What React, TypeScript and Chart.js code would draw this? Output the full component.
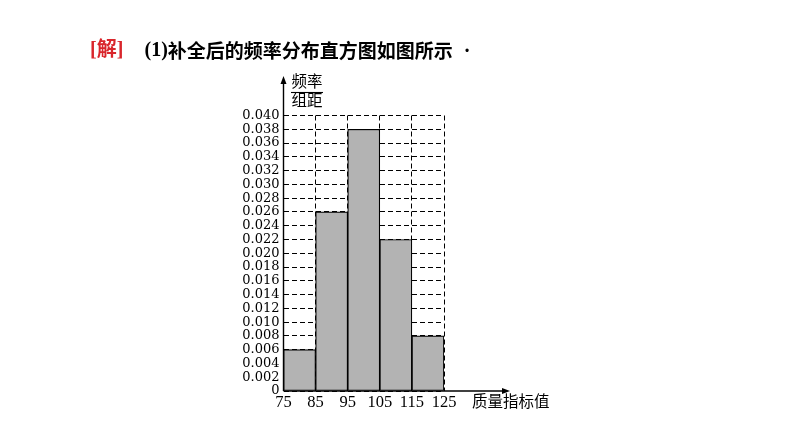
import React, { useEffect, useRef } from "react";
import { Chart, registerables } from "chart.js";

Chart.register(...registerables);

// ---- data ----
const BIN_EDGES = [75, 85, 95, 105, 115, 125];
const FREQ_PER_WIDTH = [0.006, 0.026, 0.038, 0.022, 0.008];
const Y_TICKS = [
  0, 0.002, 0.004, 0.006, 0.008, 0.01, 0.012, 0.014, 0.016, 0.018, 0.02,
  0.022, 0.024, 0.026, 0.028, 0.03, 0.032, 0.034, 0.036, 0.038, 0.04,
];
const X_TICKS = BIN_EDGES;
const TITLE_TAG = "[解]";
const TITLE_NUM = "(1)";
const TITLE_TEXT = "补全后的频率分布直方图如图所示";
const Y_LABEL_TOP = "频率";
const Y_LABEL_BOTTOM = "组距";
const X_LABEL = "质量指标值";

// ---- layout ----
const W = 794;
const H = 447;
const AREA_LEFT = 283.5;
const AREA_RIGHT = 444;
const AREA_TOP = 115.5;
const AREA_BOTTOM = 391;
const Y_AXIS_W = 46;
const X_AXIS_H = 30;

const SERIF = "'Liberation Serif', 'Times New Roman', serif";

const decorPlugin = {
  id: "decor",
  afterDatasetsDraw(chart: any) {
    const { ctx, scales } = chart;
    const x0 = scales.x.getPixelForValue(BIN_EDGES[0]);
    const y0 = scales.y.getPixelForValue(0);
    ctx.save();
    ctx.strokeStyle = "#000";
    ctx.fillStyle = "#000";
    ctx.lineWidth = 1.4;
    ctx.setLineDash([]);
    // y axis
    const yTip = 76;
    ctx.beginPath();
    ctx.moveTo(x0, y0);
    ctx.lineTo(x0, yTip + 5);
    ctx.stroke();
    ctx.beginPath();
    ctx.moveTo(x0, yTip);
    ctx.lineTo(x0 - 3, yTip + 8);
    ctx.lineTo(x0 + 3, yTip + 8);
    ctx.closePath();
    ctx.fill();
    // x axis
    const xTip = 510;
    ctx.beginPath();
    ctx.moveTo(x0, y0);
    ctx.lineTo(xTip - 5, y0);
    ctx.stroke();
    ctx.beginPath();
    ctx.moveTo(xTip, y0);
    ctx.lineTo(xTip - 8, y0 - 3);
    ctx.lineTo(xTip - 8, y0 + 3);
    ctx.closePath();
    ctx.fill();
    ctx.restore();
  },
  afterDraw(chart: any) {
    const { ctx } = chart;
    ctx.save();
    ctx.textBaseline = "middle";
    // title
    ctx.fillStyle = "#d9262c";
    ctx.font = "bold 20px 'Liberation Serif', 'Noto Sans CJK SC'";
    ctx.textAlign = "left";
    ctx.fillText(TITLE_TAG, 90, 51);
    ctx.fillStyle = "#000";
    ctx.font = "bold 20px 'Liberation Serif'";
    ctx.fillText(TITLE_NUM, 144.5, 51);
    const w = ctx.measureText(TITLE_NUM).width;
    ctx.font = "bold 19px 'Noto Sans CJK SC'";
    ctx.fillText(TITLE_TEXT, 144.5 + w, 51);
    ctx.font = "bold 20px 'Liberation Serif'";
    ctx.textAlign = "center";
    ctx.fillText("·", 467, 52);
    // y label (fraction)
    ctx.font = "15.5px 'Noto Sans CJK SC'";
    ctx.textAlign = "center";
    ctx.fillText(Y_LABEL_TOP, 307, 81.5);
    ctx.fillText(Y_LABEL_BOTTOM, 307, 100.5);
    ctx.lineWidth = 1.1;
    ctx.beginPath();
    ctx.moveTo(291, 92.5);
    ctx.lineTo(323, 92.5);
    ctx.stroke();
    // x label
    ctx.textAlign = "left";
    ctx.font = "15.5px 'Noto Sans CJK SC'";
    ctx.fillText(X_LABEL, 472, 401);
    ctx.restore();
  },
};

export default function App() {
  const ref = useRef<HTMLCanvasElement>(null);
  useEffect(() => {
    if (!ref.current) return;
    const centers = FREQ_PER_WIDTH.map((_, i) => (BIN_EDGES[i] + BIN_EDGES[i + 1]) / 2);
    const chart = new Chart(ref.current, {
      type: "bar",
      data: {
        datasets: [
          {
            data: centers.map((x, i) => ({ x, y: FREQ_PER_WIDTH[i] })) as any,
            backgroundColor: "#b3b3b3",
            borderColor: "#000",
            borderWidth: 1.2,
            borderSkipped: false,
            barPercentage: 1,
            categoryPercentage: 1,
          },
        ],
      },
      options: {
        animation: false,
        responsive: true,
        maintainAspectRatio: false,
        layout: {
          padding: {
            left: AREA_LEFT - Y_AXIS_W,
            right: W - AREA_RIGHT,
            top: AREA_TOP,
            bottom: H - AREA_BOTTOM - X_AXIS_H,
          },
        },
        plugins: {
          legend: { display: false },
          tooltip: { enabled: false },
          title: { display: false },
        },
        scales: {
          x: {
            type: "linear",
            min: BIN_EDGES[0],
            max: BIN_EDGES[BIN_EDGES.length - 1],
            offset: false,
            afterBuildTicks: (s: any) => {
              s.ticks = X_TICKS.map((v) => ({ value: v }));
            },
            afterFit: (s: any) => {
              s.height = X_AXIS_H;
            },
            grid: { color: "#000", lineWidth: 1, drawTicks: false, offset: false },
            border: { display: false, dash: [5, 3] },
            ticks: {
              autoSkip: false,
              maxRotation: 0,
              padding: 2,
              color: "#000",
              font: { family: SERIF, size: 16.5 },
              callback: (v: any) => String(v),
            },
          },
          y: {
            type: "linear",
            min: 0,
            max: Y_TICKS[Y_TICKS.length - 1],
            afterBuildTicks: (s: any) => {
              s.ticks = Y_TICKS.map((v) => ({ value: v }));
            },
            afterFit: (s: any) => {
              s.width = Y_AXIS_W;
            },
            grid: { color: "#000", lineWidth: 1, drawTicks: false },
            border: { display: false, dash: [5, 3] },
            ticks: {
              autoSkip: false,
              padding: 4,
              color: "#000",
              font: { family: "'DejaVu Serif', serif", size: 13 },
              callback: (v: any) => (Number(v) === 0 ? "0" : Number(v).toFixed(3)),
            },
          },
        },
      },
      plugins: [decorPlugin],
    });
    return () => chart.destroy();
  }, []);
  return (
    <div
      style={{
        position: "absolute",
        left: 0,
        top: 0,
        width: W,
        height: H,
        background: "#fff",
      }}
    >
      <canvas ref={ref} />
    </div>
  );
}
